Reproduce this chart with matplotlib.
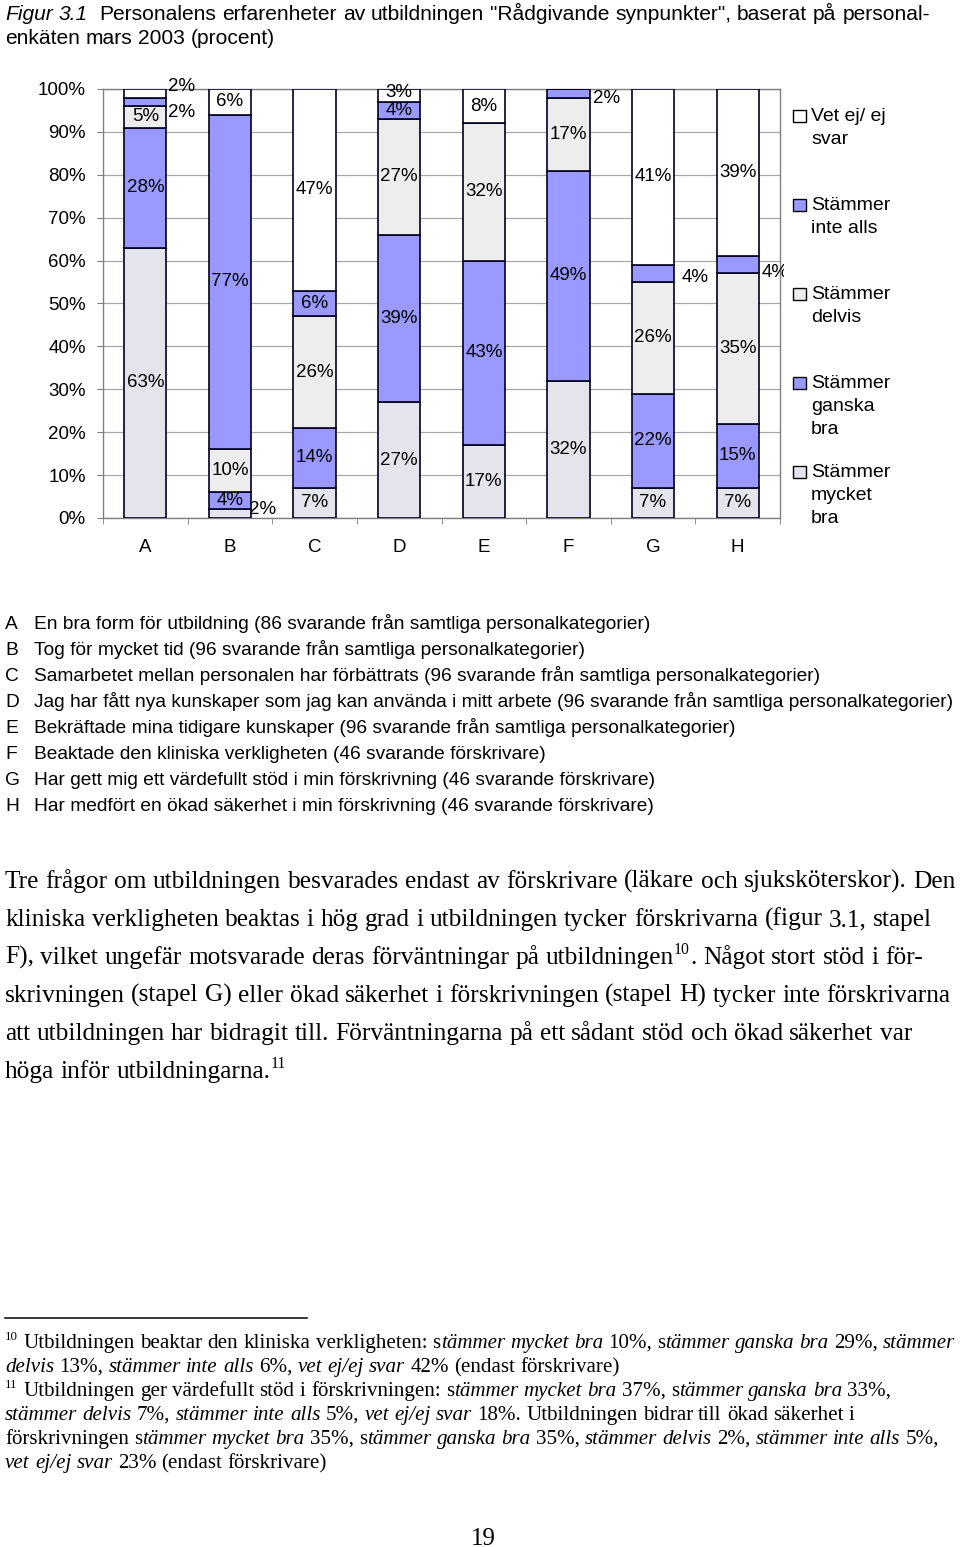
import re
import numpy as np
import matplotlib
matplotlib.use('Agg')
import matplotlib.pyplot as plt
from matplotlib.patches import Rectangle
from matplotlib.transforms import Bbox

# ---------------- data ----------------
categories = ['A', 'B', 'C', 'D', 'E', 'F', 'G', 'H']
mycket_bra = [63, 2, 7, 27, 17, 32, 7, 7]
ganska_bra = [28, 4, 14, 39, 43, 49, 22, 15]
delvis = [5, 10, 26, 27, 32, 17, 26, 35]
inte_alls = [2, 77, 6, 4, 0, 2, 4, 4]
vet_ej = [2, 6, 47, 3, 8, 0, 41, 39]
series_labels = ['Stämmer mycket bra', 'Stämmer ganska bra', 'Stämmer delvis',
                 'Stämmer inte alls', 'Vet ej/ ej svar']
ytick_values = [0, 10, 20, 30, 40, 50, 60, 70, 80, 90, 100]
ytick_labels = ['0%', '10%', '20%', '30%', '40%', '50%', '60%', '70%', '80%', '90%', '100%']

legend_lines = [['Vet ej/ ej', 'svar'], ['Stämmer', 'inte alls'], ['Stämmer', 'delvis'],
                ['Stämmer', 'ganska', 'bra'], ['Stämmer', 'mycket', 'bra']]

title_lines = ['*Figur 3.1*  Personalens erfarenheter av utbildningen "Rådgivande synpunkter", baserat på personal-',
               'enkäten mars 2003 (procent)']

descriptions = [
    'En bra form för utbildning (86 svarande från samtliga personalkategorier)',
    'Tog för mycket tid (96 svarande från samtliga personalkategorier)',
    'Samarbetet mellan personalen har förbättrats (96 svarande från samtliga personalkategorier)',
    'Jag har fått nya kunskaper som jag kan använda i mitt arbete (96 svarande från samtliga personalkategorier)',
    'Bekräftade mina tidigare kunskaper (96 svarande från samtliga personalkategorier)',
    'Beaktade den kliniska verkligheten (46 svarande förskrivare)',
    'Har gett mig ett värdefullt stöd i min förskrivning (46 svarande förskrivare)',
    'Har medfört en ökad säkerhet i min förskrivning (46 svarande förskrivare)',
]

body_lines = [
    'Tre frågor om utbildningen besvarades endast av förskrivare (läkare och sjuksköterskor). Den',
    'kliniska verkligheten beaktas i hög grad i utbildningen tycker förskrivarna (figur 3.1, stapel',
    'F), vilket ungefär motsvarade deras förväntningar på utbildningen^{10}. Något stort stöd i för-',
    'skrivningen (stapel G) eller ökad säkerhet i förskrivningen (stapel H) tycker inte förskrivarna',
    'att utbildningen har bidragit till. Förväntningarna på ett sådant stöd och ökad säkerhet var',
    'höga inför utbildningarna.^{11}',
]

footnote_lines = [
    '^{10} Utbildningen beaktar den kliniska verkligheten: s*tämmer mycket bra* 10%, s*tämmer ganska bra* 29%, *stämmer*',
    '*delvis* 13%, *stämmer inte alls* 6%, *vet ej/ej svar* 42% (endast förskrivare)',
    '^{11} Utbildningen ger värdefullt stöd i förskrivningen: s*tämmer mycket bra* 37%, s*tämmer ganska bra* 33%,',
    '*stämmer delvis* 7%, *stämmer inte alls* 5%, *vet ej/ej svar* 18%. Utbildningen bidrar till ökad säkerhet i',
    'förskrivningen s*tämmer mycket bra* 35%, s*tämmer ganska bra* 35%, *stämmer delvis* 2%, *stämmer inte alls* 5%,',
    '*vet ej/ej svar* 23% (endast förskrivare)',
]
page_number = '19'

# ---------------- style ----------------
W, H, DPI = 960, 1547, 100
SANS = 'Liberation Sans'
SERIF = 'Liberation Serif'
BLUE = '#9999FF'
LIGHT1 = '#E4E4EC'
LIGHT2 = '#EDEDED'
WHITE = '#FFFFFF'
series = [mycket_bra, ganska_bra, delvis, inte_alls, vet_ej]
colors = [LIGHT1, BLUE, LIGHT2, BLUE, WHITE]
# label positions for small segments (category idx, series idx) -> (x, y) in data units
label_override = {(0, 4): (0.43, 100.6), (0, 3): (0.43, 94.6), (1, 0): (1.38, 1.9),
                  (3, 4): (3.0, 99.2), (5, 3): (5.45, 97.7), (6, 3): (6.5, 56.0),
                  (7, 3): (7.44, 57.3)}

fig = plt.figure(figsize=(W / DPI, H / DPI), dpi=DPI)
renderer = fig.canvas.get_renderer()


def fy(y):
    return 1 - y / H


def parse_markup(s):
    chars = []
    ital = False
    i = 0
    while i < len(s):
        if s[i] == '*':
            ital = not ital
            i += 1
            continue
        if s.startswith('^{', i):
            j = s.index('}', i)
            chars += [(c, 'sup') for c in s[i + 2:j]]
            i = j + 1
            continue
        chars.append((s[i], 'i' if ital else 'n'))
        i += 1
    runs = []
    for c, st in chars:
        if runs and runs[-1][1] == st:
            runs[-1][0] += c
        else:
            runs.append([c, st])
    return runs


_space_cache = {}


def measure(s, size, family, style):
    t = fig.text(0, 0, s, fontsize=size, family=family, style=style)
    w = t.get_window_extent(renderer=renderer).width
    t.remove()
    return w


def space_w(size, family, style):
    key = (size, family, style)
    if key not in _space_cache:
        _space_cache[key] = measure('n n', size, family, style) - measure('nn', size, family, style)
    return _space_cache[key]


def draw_line(x, y, s, size, family, word_extra=0.0):
    for txt, st in parse_markup(s):
        style = 'italic' if st == 'i' else 'normal'
        for p in re.split(r'( +)', txt):
            if not p:
                continue
            if p.isspace():
                x += len(p) * (space_w(size, family, style) + word_extra)
                continue
            if st == 'sup':
                fs = size * 0.62
                yy = y - size * DPI / 72 * 0.38
            else:
                fs = size
                yy = y
            t = fig.text(x / W, fy(yy), p, fontsize=fs, family=family, style=style,
                         va='baseline', ha='left')
            x += t.get_window_extent(renderer=renderer).width + (0.6 if st == 'sup' else 0)
    return x


# ---------------- chart ----------------
ax = fig.add_axes([103 / W, 1 - 518 / H, 677 / W, 429 / H])
xpos = np.arange(len(categories))
totals = np.sum(np.array(series, dtype=float), axis=0)
bottom = np.zeros(len(categories))
for si, (vals, col) in enumerate(zip(series, colors)):
    vals = np.array(vals, dtype=float)
    pct = vals / totals * 100
    ax.bar(xpos, pct, 0.5, bottom=bottom, color=col, edgecolor='#000020',
           linewidth=1.2, zorder=3)
    for ci, v in enumerate(vals):
        if v <= 0:
            continue
        if (ci, si) in label_override:
            lx, ly = label_override[(ci, si)]
        else:
            lx, ly = xpos[ci], bottom[ci] + pct[ci] / 2
        t = ax.text(lx, ly, f'{int(v)}%', ha='center', va='center', fontsize=13.5,
                    family=SANS, color='black', zorder=5, clip_on=False)
        if ci == 7 and si == 3:
            t.set_clip_on(True)
            t.set_clip_box(Bbox.from_extents(0, 0, 784, H))
    bottom += pct

ax.set_xlim(-0.5, len(categories) - 0.5)
ax.set_ylim(0, 100)
ax.set_yticks(ytick_values)
ax.set_yticklabels(ytick_labels, family=SANS, fontsize=13.5)
ax.set_xticks(xpos)
ax.set_xticklabels(categories, family=SANS, fontsize=13.5)
ax.set_xticks(np.arange(-0.5, len(categories), 1.0), minor=True)
ax.tick_params(axis='x', which='major', length=0, pad=15)
ax.tick_params(axis='x', which='minor', length=4, direction='out', color='#808080')
ax.tick_params(axis='y', length=4, direction='out', color='#808080', pad=8.5)
ax.yaxis.grid(True, color='#A8A8A8', linewidth=0.9, zorder=0)
ax.set_axisbelow(True)
for sp in ax.spines.values():
    sp.set_color('#808080')
    sp.set_linewidth(1.0)

# legend (manual)
legend_colors = [WHITE, BLUE, LIGHT2, BLUE, LIGHT1]
for k, (lines, col) in enumerate(zip(legend_lines, legend_colors)):
    base = 121 + k * 89
    fig.patches.append(Rectangle((793 / W, fy(base + 1)), 12.5 / W, 12.5 / H,
                                 transform=fig.transFigure, facecolor=col,
                                 edgecolor='black', linewidth=1.0))
    for j, ln in enumerate(lines):
        fig.text(811 / W, fy(base + j * 23), ln, fontsize=14, family=SANS,
                 va='baseline', ha='left')

# ---------------- texts ----------------
draw_line(5, 20, title_lines[0], 15.15, SANS)
draw_line(5, 44, title_lines[1], 15.15, SANS)

for i, (cat, desc) in enumerate(zip(categories, descriptions)):
    yb = 629 + i * 26
    fig.text(5 / W, fy(yb), cat, fontsize=13.75, family=SANS, va='baseline')
    fig.text(34 / W, fy(yb), desc, fontsize=13.75, family=SANS, va='baseline')

for i, ln in enumerate(body_lines):
    draw_line(5, 888 + i * 38, ln, 18.25, SERIF)

fig.add_artist(plt.Line2D([5 / W, 307 / W], [fy(1318), fy(1318)], color='black',
                          linewidth=1.1, transform=fig.transFigure))
for i, ln in enumerate(footnote_lines):
    draw_line(5, 1348 + i * 24, ln, 15.1, SERIF)

fig.text(483 / W, fy(1545), page_number, fontsize=18, family=SERIF, ha='center',
         va='baseline')

fig.savefig('out.png', dpi=DPI)
